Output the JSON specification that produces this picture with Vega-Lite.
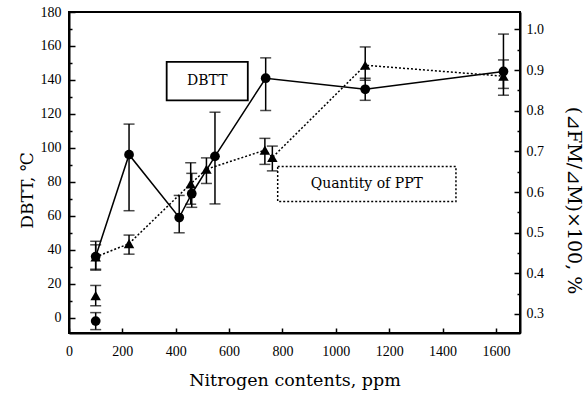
{
  "$schema": "https://vega.github.io/schema/vega-lite/v6.json",
  "width": 451,
  "height": 321,
  "autosize": "none",
  "padding": {"left": 69, "top": 12, "right": 66, "bottom": 61},
  "background": "white",
  "config": {
    "font": "Liberation Serif",
    "view": {"stroke": "black", "strokeWidth": 2},
    "axis": {
      "domainColor": "black", "domainWidth": 2, "tickColor": "black", "tickWidth": 1.5,
      "labelColor": "black", "titleColor": "black", "labelFont": "Liberation Serif",
      "titleFont": "DejaVu Serif", "labelFontSize": 14, "titleFontSize": 17,
      "titleFontWeight": "normal", "grid": false, "labelFlush": false, "labelOverlap": false
    }
  },
  "datasets": {
    "dbtt": [
      {"N": 100, "v": -2, "lo": -7, "hi": 3, "main": false},
      {"N": 100, "v": 36, "lo": 28, "hi": 45, "main": true},
      {"N": 225, "v": 96, "lo": 63, "hi": 114, "main": true},
      {"N": 413, "v": 59, "lo": 50, "hi": 72, "main": true},
      {"N": 460, "v": 73, "lo": 65, "hi": 85, "main": true},
      {"N": 547, "v": 95, "lo": 67, "hi": 121, "main": true},
      {"N": 737, "v": 141, "lo": 122, "hi": 153, "main": true},
      {"N": 1110, "v": 134.5, "lo": 128, "hi": 141, "main": true},
      {"N": 1628, "v": 145, "lo": 131, "hi": 167, "main": true}
    ],
    "ppt": [
      {"N": 100, "v": 0.345, "lo": 0.32, "hi": 0.37, "main": false},
      {"N": 100, "v": 0.44, "lo": 0.41, "hi": 0.47, "main": true},
      {"N": 225, "v": 0.473, "lo": 0.447, "hi": 0.494, "main": true},
      {"N": 456, "v": 0.62, "lo": 0.57, "hi": 0.672, "main": true},
      {"N": 515, "v": 0.656, "lo": 0.621, "hi": 0.684, "main": true},
      {"N": 734, "v": 0.703, "lo": 0.668, "hi": 0.732, "main": true},
      {"N": 762, "v": 0.685, "lo": 0.652, "hi": 0.713, "main": true},
      {"N": 1110, "v": 0.912, "lo": 0.875, "hi": 0.957, "main": true},
      {"N": 1628, "v": 0.885, "lo": 0.855, "hi": 0.925, "main": true}
    ],
    "notes": [
      {"label": "DBTT", "x1": 366, "x2": 670, "y1": 128, "y2": 150.6, "tx": 518, "ty": 139.3, "kind": "solid"},
      {"label": "Quantity of PPT", "x1": 782, "x2": 1450, "y1": 68.4, "y2": 89, "tx": 1116, "ty": 78.7, "kind": "dotted"}
    ]
  },
  "layer": [
    {
      "data": {"name": "dbtt"},
      "layer": [
        {
          "mark": {"type": "rule", "color": "black", "strokeWidth": 1.5},
          "encoding": {
            "x": {"field": "N", "type": "quantitative", "scale": {"domain": [0, 1690], "nice": false, "zero": false},
              "axis": {"values": [0, 100, 200, 300, 400, 500, 600, 700, 800, 900, 1000, 1100, 1200, 1300, 1400, 1500, 1600],
                "format": "d", "labelExpr": "datum.value % 200 === 0 ? datum.label : ''",
                "tickSize": -5, "labelPadding": 16, "title": "Nitrogen contents, ppm", "titleFontSize": 17.5, "titleY": 47, "titleBaseline": "middle"}},
            "y": {"field": "lo", "type": "quantitative", "scale": {"domain": [-9, 180], "nice": false, "zero": false},
              "axis": {"orient": "left", "values": [0, 20, 40, 60, 80, 100, 120, 140, 160, 180], "format": "d",
                "tickSize": -6, "labelPadding": 14, "title": "DBTT, ℃", "titleX": -42, "titleY": 178, "titleBaseline": "middle"}},
            "y2": {"field": "hi"}
          }
        },
        {
          "mark": {"type": "tick", "color": "black", "thickness": 1.5, "size": 11, "orient": "horizontal"},
          "encoding": {
            "x": {"field": "N", "type": "quantitative", "scale": {"domain": [0, 1690], "nice": false, "zero": false}},
            "y": {"field": "lo", "type": "quantitative", "scale": {"domain": [-9, 180], "nice": false, "zero": false},
              "axis": {"orient": "left", "values": [10, 30, 50, 70, 90, 110, 130, 150, 170], "tickSize": -3, "labels": false, "domain": false, "title": null}}
          }
        },
        {
          "mark": {"type": "tick", "color": "black", "thickness": 1.5, "size": 11, "orient": "horizontal"},
          "encoding": {
            "x": {"field": "N", "type": "quantitative", "scale": {"domain": [0, 1690], "nice": false, "zero": false}},
            "y": {"field": "hi", "type": "quantitative", "scale": {"domain": [-9, 180], "nice": false, "zero": false}, "axis": null}
          }
        },
        {
          "transform": [{"filter": "datum.main"}],
          "mark": {"type": "line", "color": "black", "strokeWidth": 1.5},
          "encoding": {
            "x": {"field": "N", "type": "quantitative", "scale": {"domain": [0, 1690], "nice": false, "zero": false}},
            "y": {"field": "v", "type": "quantitative", "scale": {"domain": [-9, 180], "nice": false, "zero": false}, "axis": null}
          }
        },
        {
          "mark": {"type": "point", "shape": "circle", "filled": true, "color": "black", "size": 95, "opacity": 1},
          "encoding": {
            "x": {"field": "N", "type": "quantitative", "scale": {"domain": [0, 1690], "nice": false, "zero": false}},
            "y": {"field": "v", "type": "quantitative", "scale": {"domain": [-9, 180], "nice": false, "zero": false}, "axis": null}
          }
        },
        {
          "data": {"name": "notes"},
          "transform": [{"filter": "datum.kind === 'solid'"}],
          "mark": {"type": "rect", "fill": "white", "stroke": "black", "strokeWidth": 1.8},
          "encoding": {
            "x": {"field": "x1", "type": "quantitative", "scale": {"domain": [0, 1690], "nice": false, "zero": false}},
            "x2": {"field": "x2"},
            "y": {"field": "y1", "type": "quantitative", "scale": {"domain": [-9, 180], "nice": false, "zero": false}, "axis": null},
            "y2": {"field": "y2"}
          }
        },
        {
          "data": {"name": "notes"},
          "transform": [{"filter": "datum.kind === 'dotted'"}],
          "mark": {"type": "rect", "fill": "white", "stroke": "black", "strokeWidth": 1.5, "strokeDash": [2, 2]},
          "encoding": {
            "x": {"field": "x1", "type": "quantitative", "scale": {"domain": [0, 1690], "nice": false, "zero": false}},
            "x2": {"field": "x2"},
            "y": {"field": "y1", "type": "quantitative", "scale": {"domain": [-9, 180], "nice": false, "zero": false}, "axis": null},
            "y2": {"field": "y2"}
          }
        },
        {
          "data": {"name": "notes"},
          "mark": {"type": "text", "font": "DejaVu Serif", "fontSize": 14, "color": "black", "align": "center", "baseline": "middle"},
          "encoding": {
            "x": {"field": "tx", "type": "quantitative", "scale": {"domain": [0, 1690], "nice": false, "zero": false}},
            "y": {"field": "ty", "type": "quantitative", "scale": {"domain": [-9, 180], "nice": false, "zero": false}, "axis": null},
            "text": {"field": "label"}
          }
        }
      ],
      "resolve": {"axis": {"y": "independent"}}
    },
    {
      "data": {"name": "ppt"},
      "layer": [
        {
          "mark": {"type": "rule", "color": "black", "strokeWidth": 1.5},
          "encoding": {
            "x": {"field": "N", "type": "quantitative", "scale": {"domain": [0, 1690], "nice": false, "zero": false}},
            "y": {"field": "lo", "type": "quantitative", "scale": {"domain": [0.253, 1.043], "nice": false, "zero": false},
              "axis": {"orient": "right", "values": [0.3, 0.4, 0.5, 0.6, 0.7, 0.8, 0.9, 1.0], "format": ".1f",
                "tickSize": -6, "labelPadding": 12, "title": "(⊿FM/⊿M)×100, %", "titleAngle": 90, "titleFontSize": 19,
                "titleX": 53, "titleY": 188, "titleBaseline": "middle"}},
            "y2": {"field": "hi"}
          }
        },
        {
          "mark": {"type": "tick", "color": "black", "thickness": 1.5, "size": 11, "orient": "horizontal"},
          "encoding": {
            "x": {"field": "N", "type": "quantitative", "scale": {"domain": [0, 1690], "nice": false, "zero": false}},
            "y": {"field": "lo", "type": "quantitative", "scale": {"domain": [0.253, 1.043], "nice": false, "zero": false},
              "axis": {"orient": "right", "values": [0.35, 0.45, 0.55, 0.65, 0.75, 0.85, 0.95], "tickSize": -3, "labels": false, "domain": false, "title": null}}
          }
        },
        {
          "mark": {"type": "tick", "color": "black", "thickness": 1.5, "size": 11, "orient": "horizontal"},
          "encoding": {
            "x": {"field": "N", "type": "quantitative", "scale": {"domain": [0, 1690], "nice": false, "zero": false}},
            "y": {"field": "hi", "type": "quantitative", "scale": {"domain": [0.253, 1.043], "nice": false, "zero": false}, "axis": null}
          }
        },
        {
          "transform": [{"filter": "datum.main"}],
          "mark": {"type": "line", "color": "black", "strokeWidth": 1.5, "strokeDash": [2, 2]},
          "encoding": {
            "x": {"field": "N", "type": "quantitative", "scale": {"domain": [0, 1690], "nice": false, "zero": false}},
            "y": {"field": "v", "type": "quantitative", "scale": {"domain": [0.253, 1.043], "nice": false, "zero": false}, "axis": null}
          }
        },
        {
          "mark": {"type": "point", "shape": "triangle-up", "filled": true, "color": "black", "size": 110, "opacity": 1},
          "encoding": {
            "x": {"field": "N", "type": "quantitative", "scale": {"domain": [0, 1690], "nice": false, "zero": false}},
            "y": {"field": "v", "type": "quantitative", "scale": {"domain": [0.253, 1.043], "nice": false, "zero": false}, "axis": null}
          }
        }
      ],
      "resolve": {"axis": {"y": "independent"}}
    }
  ],
  "resolve": {"scale": {"y": "independent"}}
}
